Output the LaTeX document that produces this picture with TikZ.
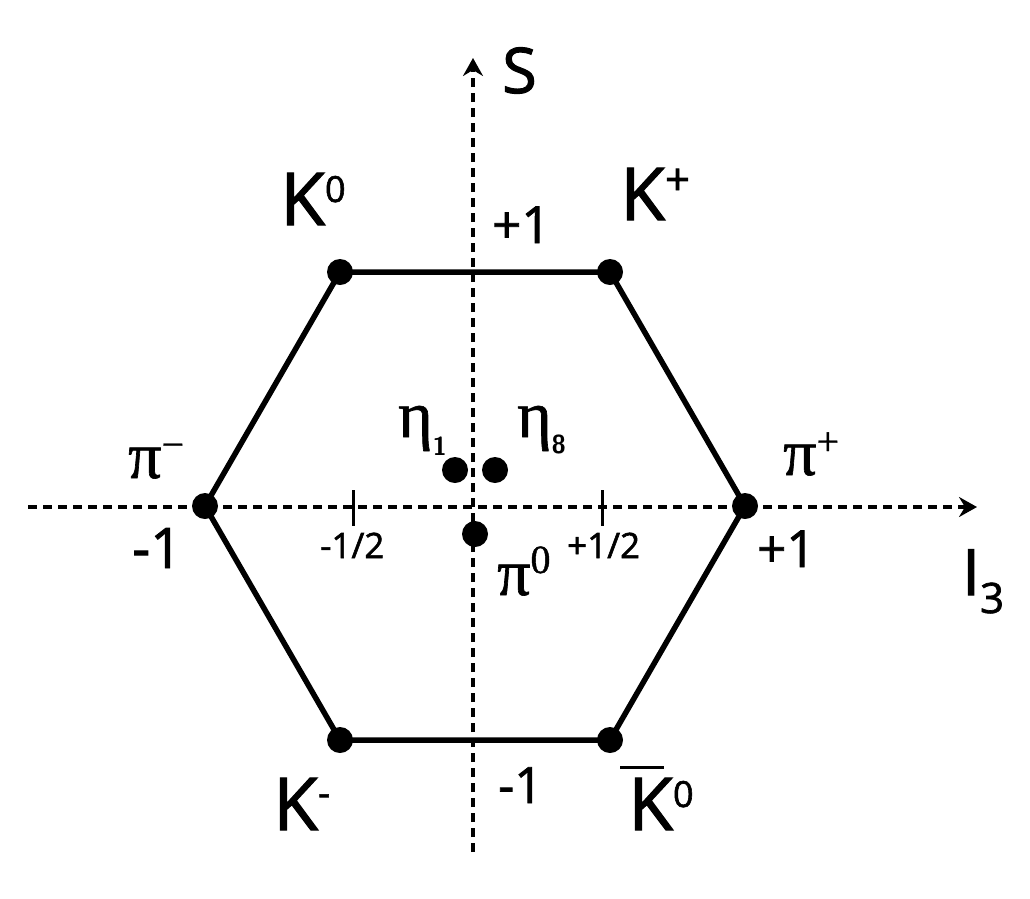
\documentclass[tikz,border=0pt]{standalone}
\usepackage{fontspec}
\setmainfont{Open Sans}[FakeBold=1.6]
\newfontfamily\grk{Liberation Serif}[FakeBold=1.0]
\usetikzlibrary{arrows.meta}
\tikzset{
  ax/.style={line width=3.2pt, dash pattern=on 9pt off 6pt, -{Stealth[length=18pt,width=20pt,inset=6pt]}},
  edge/.style={line width=5.5pt},
  pt/.style={circle, fill=black, inner sep=0pt, minimum size=26pt},
  lbl/.style={inner sep=0pt, anchor=base west},
  tick/.style={line width=3pt},
}
\newcommand{\fsz}[1]{\fontsize{#1}{#1}\selectfont}
\begin{document}
\begin{tikzpicture}[x=1pt,y=-1pt]
\useasboundingbox (0,0) rectangle (1030,898);
% axes
\coordinate (hl) at (28,507);
\coordinate (hr) at (977,507);
\coordinate (vb) at (473,852);
\coordinate (vt) at (473,58);
\draw[ax] (hl) -- (hr);
\draw[ax] (vb) -- (vt);
% ticks
\coordinate (t1a) at (353,490); \coordinate (t1b) at (353,526);
\coordinate (t2a) at (602,490); \coordinate (t2b) at (602,526);
\draw[tick] (t1a) -- (t1b);
\draw[tick] (t2a) -- (t2b);
% vertices
\node[pt] (k0) at (340,272) {};
\node[pt] (kp) at (610,272) {};
\node[pt] (pp) at (745,506) {};
\node[pt] (k0b) at (610,740) {};
\node[pt] (km) at (340,740) {};
\node[pt] (pm) at (205,506) {};
\draw[edge] (k0.center) -- (kp.center) -- (pp.center) -- (k0b.center) -- (km.center) -- (pm.center) -- cycle;
% centre points
\node[pt] (e1) at (455,470) {};
\node[pt] (e8) at (495,470) {};
\node[pt] (p0) at (475,534) {};
% labels
\node[lbl] (Slab) at (502,93) {\fsz{63}S};
\node[lbl] (K0lab) at (280,225) {\fsz{73}K\raisebox{23pt}{\fsz{36}0}};
\node[lbl] (Kplab) at (620,220) {\fsz{73}K\raisebox{25pt}{\fsz{44}+}};
\node[lbl] (s1) at (492,243) {\fsz{51}+1};
\node[lbl] (pmlab) at (128,478) {\grk\fsz{66}π\raisebox{20pt}{\fsz{40}−}};
\node[lbl] (e1lab) at (398,437) {\grk\fsz{66}η\raisebox{-18pt}{\sffamily\fsz{26}\bfseries 1}};
\node[lbl] (e8lab) at (517,437) {\grk\fsz{66}η\raisebox{-16pt}{\sffamily\fsz{26}\bfseries 8}};
\node[lbl] (pplab) at (783,475) {\grk\fsz{66}π\raisebox{20pt}{\fsz{40}+}};
\node[lbl] (m1) at (132,568) {\fsz{56}-1};
\node[lbl] (mh) at (320,558) {\fsz{35}-1/2};
\node[lbl] (ph) at (567,558) {\fsz{35}+1/2};
\node[lbl] (p1) at (757,567) {\fsz{51}+1};
\node[lbl] (I3) at (962,595) {\fsz{64}I\raisebox{-18pt}{\fsz{42}3}};
\node[lbl] (p0lab) at (497,595) {\grk\fsz{66}π\raisebox{22pt}{\fsz{40}0}};
\node[lbl] (Kmlab) at (273,830) {\fsz{73}K\raisebox{24pt}{\fsz{38}-}};
\node[lbl] (sm1) at (498,803) {\fsz{50}-1};
\node[lbl] (Kblab) at (628,830) {\fsz{73}K\raisebox{23pt}{\fsz{36}0}};
\coordinate (bara) at (620,767); \coordinate (barb) at (664,767);
\draw[line width=3pt] (bara) -- (barb);
\end{tikzpicture}
\end{document}
